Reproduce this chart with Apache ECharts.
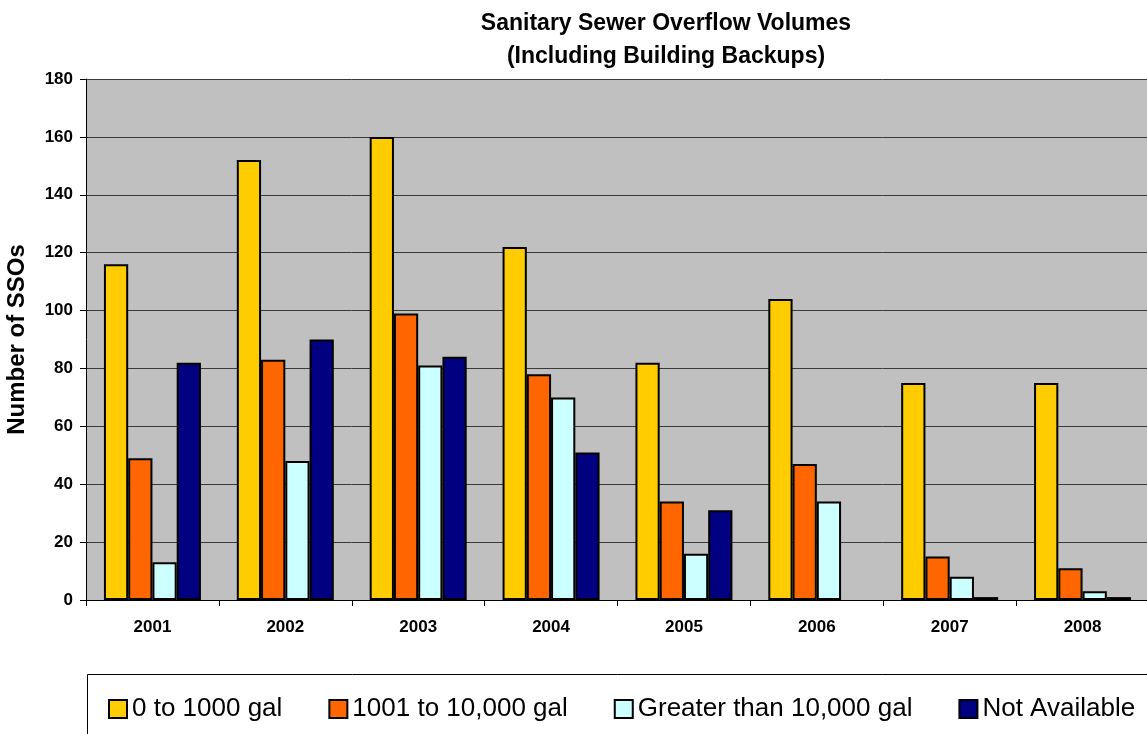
<!DOCTYPE html>
<html>
<head>
<meta charset="utf-8">
<script src="https://cdn.jsdelivr.net/npm/echarts@6/dist/echarts.min.js"></script>
<style>
html,body{margin:0;padding:0;background:#fff;}
#chart{width:1147px;height:734px;}
</style>
</head>
<body>
<div id="chart"></div>
<script>
var years = ['2001','2002','2003','2004','2005','2006','2007','2008'];
var seriesNames = ['0 to 1000 gal','1001 to 10,000 gal','Greater than 10,000 gal','Not Available'];
var small = [116,152,160,122,82,104,75,75];
var medium = [49,83,99,78,34,47,15,11];
var large = [13,48,81,70,16,34,8,3];
var notAvailable = [82,90,84,51,31,null,1,1];
var colors = ['#FFCC00','#FF6600','#CCFFFF','#000080'];
var yTicks = {min:0, max:180, interval:20};

var FONT = '"Liberation Sans", Arial, sans-serif';
var chart = echarts.init(document.getElementById('chart'), null, {renderer:'canvas'});
var allData = [small, medium, large, notAvailable];
var series = allData.map(function(d, i){
  return {
    name: seriesNames[i],
    type: 'bar',
    data: d,
    barGap: '0%',
    barCategoryGap: '27%',
    itemStyle: {color: colors[i], borderColor: '#000', borderWidth: 2},
    emphasis: {disabled: true},
    animation: false
  };
});

chart.setOption({
  animation: false,
  backgroundColor: '#fff',
  title: {
    text: 'Sanitary Sewer Overflow Volumes\n(Including Building Backups)',
    left: 661, textAlign: 'center', top: 2,
    textStyle: {fontFamily: FONT, fontSize: 23, fontWeight: 'bold', color: '#000', lineHeight: 33}
  },
  grid: {left: 86, right: -2, top: 79, bottom: 134, show: true, backgroundColor: '#C0C0C0', borderWidth: 0, outerBoundsMode: 'none', containLabel: false},
  legend: {
    data: seriesNames,
    left: 103, top: 691,
    itemWidth: 18, itemHeight: 18, itemGap: 46,
    icon: 'rect',
    textStyle: {fontFamily: FONT, fontSize: 26, color: '#000'},
    itemStyle: {borderColor: '#000', borderWidth: 2}
  },
  graphic: [{
    type: 'rect', left: 85, top: 672,
    shape: {x: 0, y: 0, width: 1100, height: 100},
    style: {fill: 'none', stroke: '#000', lineWidth: 1},
    z: -1
  }],
  xAxis: {
    type: 'category',
    data: years,
    axisLine: {show: true, lineStyle: {color: '#000', width: 1}},
    axisTick: {show: true, length: 6, lineStyle: {color: '#000'}},
    axisLabel: {fontFamily: FONT, fontSize: 17, fontWeight: 'bold', color: '#000', margin: 19},
    splitLine: {show: false}
  },
  yAxis: {
    type: 'value',
    min: yTicks.min, max: yTicks.max, interval: yTicks.interval,
    name: 'Number of SSOs',
    nameLocation: 'middle',
    nameGap: 57,
    nameTextStyle: {fontFamily: FONT, fontSize: 24, fontWeight: 'bold', color: '#000'},
    axisLine: {show: true, lineStyle: {color: '#000', width: 1}},
    axisTick: {show: true, length: 6, lineStyle: {color: '#000'}},
    axisLabel: {fontFamily: FONT, fontSize: 17, fontWeight: 'bold', color: '#000', margin: 13},
    splitLine: {show: true, lineStyle: {color: '#3a3a3a', width: 1}}
  },
  series: series
});
</script>
</body>
</html>
